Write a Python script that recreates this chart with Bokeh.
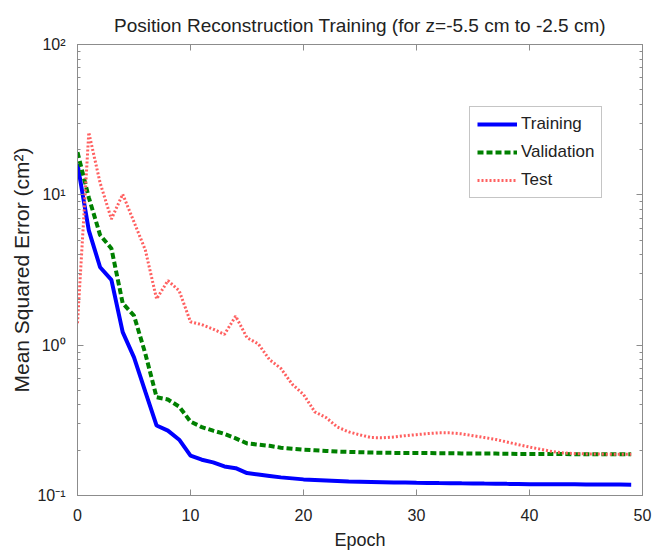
from bokeh.plotting import figure
from bokeh.models import (LogAxis, LinearAxis, FixedTicker, LogTicker,
                          CustomJSTickFormatter, Legend, LegendItem, Range1d)
from bokeh.embed import file_html
from bokeh.resources import INLINE

epochs = list(range(50))
training = [16.0, 5.8, 3.3, 2.72, 1.22, 0.83, 0.49, 0.292, 0.27, 0.235,
            0.184, 0.173, 0.166, 0.156, 0.152, 0.141, 0.138, 0.135, 0.132, 0.130,
            0.128, 0.127, 0.126, 0.125, 0.124, 0.1235, 0.123, 0.1225, 0.122, 0.1218,
            0.1215, 0.1213, 0.121, 0.1208, 0.1205, 0.1203, 0.12, 0.1198, 0.1195, 0.1193,
            0.119, 0.1189, 0.1188, 0.1187, 0.1186, 0.1185, 0.1184, 0.1183, 0.1182, 0.118]
validation = [19.2, 9.6, 5.4, 4.4, 1.9, 1.57, 0.88, 0.45, 0.435, 0.39,
              0.31, 0.285, 0.27, 0.257, 0.24, 0.222, 0.218, 0.214, 0.208, 0.205,
              0.202, 0.2, 0.198, 0.196, 0.195, 0.194, 0.193, 0.1925, 0.192, 0.192,
              0.192, 0.1915, 0.191, 0.191, 0.1905, 0.19, 0.19, 0.19, 0.1895, 0.189,
              0.189, 0.189, 0.1888, 0.1886, 0.1884, 0.1882, 0.188, 0.188, 0.188, 0.188]
test = [1.4, 26.0, 12.0, 6.9, 10.1, 6.6, 4.3, 2.03, 2.69, 2.3,
        1.43, 1.37, 1.28, 1.18, 1.56, 1.12, 1.02, 0.80, 0.70, 0.55,
        0.47, 0.36, 0.33, 0.285, 0.265, 0.253, 0.243, 0.242, 0.245, 0.25,
        0.254, 0.258, 0.261, 0.261, 0.257, 0.25, 0.243, 0.236, 0.227, 0.218,
        0.21, 0.203, 0.196, 0.192, 0.19, 0.189, 0.189, 0.188, 0.188, 0.188]

x_ticks = [0, 10, 20, 30, 40, 50]
title_text = "Position Reconstruction Training (for z=-5.5 cm to -2.5 cm)"
x_label = "Epoch"
y_label = "Mean Squared Error (cm\u00b2)"
series_names = ["Training", "Validation", "Test"]

FONT = "Liberation Sans"
TXT = "#222222"
GRID = "#8c8c8c"

p = figure(width=657, height=554, output_backend="svg", toolbar_location=None,
           y_axis_type="log", x_range=Range1d(0, 50), y_range=Range1d(0.1, 100),
           min_border_left=77, min_border_right=15, min_border_top=44, min_border_bottom=59)

p.title.text = title_text
p.title.text_font = FONT
p.title.text_font_size = "19px"
p.title.text_font_style = "normal"
p.title.text_color = TXT
p.title.align = "center"
p.title.standoff = 18

p.xgrid.visible = False
p.ygrid.visible = False
p.outline_line_color = GRID
p.outline_line_width = 1
p.background_fill_color = "white"
p.border_fill_color = "white"

sup = """const m = {"-":"\u207b","0":"\u2070","1":"\u00b9","2":"\u00b2","3":"\u00b3"};
const e = Math.round(Math.log10(tick));
return "10" + String(e).split("").map(c => m[c]).join("");"""

xa = p.xaxis[0]
xa.ticker = FixedTicker(ticks=x_ticks, minor_ticks=[])
xa.axis_label = x_label
ya = p.yaxis[0]
ya.ticker = LogTicker(desired_num_ticks=4, num_minor_ticks=10)
ya.formatter = CustomJSTickFormatter(code=sup)
ya.axis_label = y_label

for ax in (xa, ya):
    ax.axis_line_color = GRID
    ax.major_tick_line_color = GRID
    ax.minor_tick_line_color = GRID
    ax.major_tick_in = 6
    ax.major_tick_out = 0
    ax.minor_tick_in = 3
    ax.minor_tick_out = 0
    ax.major_label_text_font = FONT
    ax.major_label_text_font_size = "16px"
    ax.major_label_text_color = TXT
    ax.axis_label_text_font = FONT
    ax.axis_label_text_font_style = "normal"
    ax.axis_label_text_color = TXT

xa.axis_label_text_font_size = "18px"
ya.axis_label_text_font_size = "21px"
xa.major_label_standoff = 13
xa.axis_label_standoff = 6
ya.major_label_standoff = 12
ya.axis_label_standoff = 1

blank = CustomJSTickFormatter(code="return '';")
top = LinearAxis(ticker=FixedTicker(ticks=x_ticks, minor_ticks=[]), formatter=blank,
                 major_label_standoff=0, axis_line_color=GRID, major_tick_line_color=GRID,
                 major_tick_in=6, major_tick_out=0, minor_tick_in=0, minor_tick_out=0)
p.add_layout(top, "above")
right = LogAxis(ticker=LogTicker(desired_num_ticks=4, num_minor_ticks=10), formatter=blank,
                major_label_standoff=0, axis_line_color=GRID, major_tick_line_color=GRID,
                minor_tick_line_color=GRID, major_tick_in=6, major_tick_out=0,
                minor_tick_in=3, minor_tick_out=0)
p.add_layout(right, "right")

r_tr = p.line(epochs, training, line_color="#0000ff", line_width=4)
r_va = p.line(epochs, validation, line_color="#008000", line_width=4, line_dash="6 3")
r_te = p.line(epochs, test, line_color="#ff6060", line_width=3, line_dash="2 2")

legend = Legend(items=[LegendItem(label=series_names[0], renderers=[r_tr]),
                       LegendItem(label=series_names[1], renderers=[r_va]),
                       LegendItem(label=series_names[2], renderers=[r_te])],
                location=(392, 297), label_text_font=FONT, label_text_font_size="17px",
                label_text_color=TXT, glyph_width=40, glyph_height=20, label_height=20,
                label_standoff=4, spacing=8, padding=7, margin=0,
                border_line_color=GRID, border_line_width=1, background_fill_alpha=1)
p.add_layout(legend, "center")

open("out.html", "w").write(file_html(p, INLINE))
